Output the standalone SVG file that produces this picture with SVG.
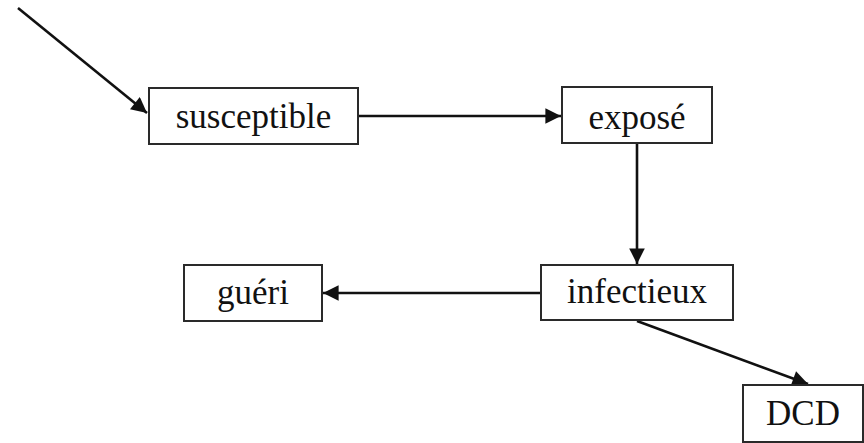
<svg xmlns="http://www.w3.org/2000/svg" width="864" height="443" viewBox="0 0 864 443">
<style>
.box{fill:#fff;stroke:#2a2a2a;stroke-width:2}
.lbl{font-family:"Liberation Serif","Times New Roman",serif;font-size:35px;fill:#111;text-anchor:middle}
.edge{stroke:#111;stroke-width:2.6;fill:none;marker-end:url(#ah)}
</style>
<defs>
<marker id="ah" viewBox="0 0 10 10" refX="10" refY="5" markerWidth="7" markerHeight="6" markerUnits="strokeWidth" orient="auto">
<path d="M0,0 L10,5 L0,10 z" fill="#111"/>
</marker>
</defs>
<rect width="864" height="443" fill="#fff"/>
<g id="connectors">
<line class="edge" x1="18" y1="8" x2="147" y2="113"/>
<line class="edge" x1="358" y1="116" x2="561" y2="116"/>
<line class="edge" x1="637" y1="143" x2="637" y2="264"/>
<line class="edge" x1="541" y1="293" x2="323" y2="293"/>
<line class="edge" x1="637" y1="321" x2="808" y2="384"/>
</g>
<g id="susceptible"><rect class="box" x="149" y="88" width="209" height="56"/><text class="lbl" x="253.5" y="128">susceptible</text></g>
<g id="expose"><rect class="box" x="562" y="87" width="150" height="56"/><text class="lbl" x="637" y="129">exposé</text></g>
<g id="infectieux"><rect class="box" x="541" y="265" width="192" height="55"/><text class="lbl" x="637" y="303">infectieux</text></g>
<g id="gueri"><rect class="box" x="184" y="265" width="138" height="56"/><text class="lbl" x="253" y="304">guéri</text></g>
<g id="DCD"><rect class="box" x="743" y="385" width="120" height="57"/><text class="lbl" x="803" y="425">DCD</text></g>
</svg>
